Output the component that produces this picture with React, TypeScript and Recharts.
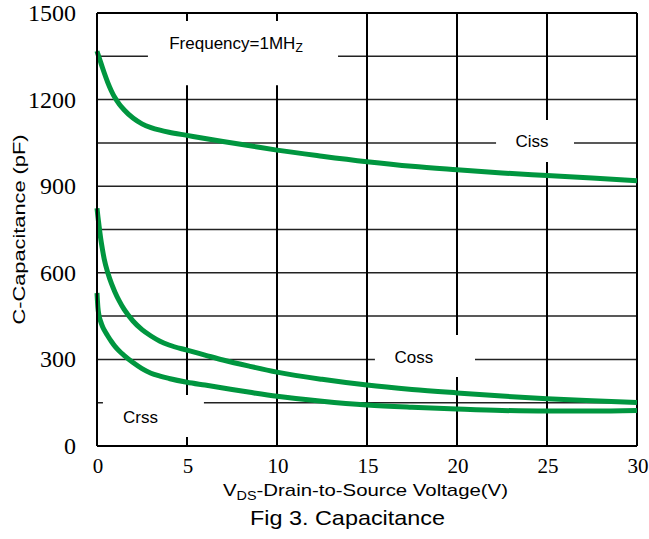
import React from "react";
import {
  LineChart,
  Line,
  XAxis,
  YAxis,
  ReferenceLine,
  ReferenceArea,
} from "recharts";

// pF at each V_DS step
const voltages = [0, 0.05, 0.1, 0.2, 0.3, 0.4, 0.6, 0.8, 1, 1.25, 1.5, 2, 2.5, 3, 3.5, 4, 5, 6, 7, 8.5, 10, 12.5, 15, 17.5, 20, 22.5, 25, 27.5, 30];
const ciss = [1368, 1358, 1349, 1330, 1311, 1293, 1259, 1230, 1206, 1183, 1165, 1136, 1116, 1103, 1094, 1087, 1076, 1065, 1055, 1040, 1025, 1004, 985, 969, 957, 946, 937, 928, 919];
const coss = [824, 795, 770, 721, 682, 648, 600, 563, 533, 501, 474, 433, 403, 381, 363, 350, 332, 315, 298, 276, 256, 231, 211, 196, 184, 173, 164, 157, 151];
const crss = [530, 480, 456, 432, 415, 402, 381, 362, 345, 328, 314, 289, 268, 252, 242, 234, 221, 211, 201, 186, 172, 155, 142, 134, 128, 123, 121, 121, 123];

const xTicks = [0, 5, 10, 15, 20, 25, 30];
const yTicks = [0, 300, 600, 900, 1200, 1500];
const hGrid = [150, 300, 450, 600, 750, 900, 1050, 1200, 1350];
const vGrid = [5, 10, 15, 20, 25];

const data = voltages.map((v, i) => ({ v, ciss: ciss[i], coss: coss[i], crss: crss[i] }));

const SANS = "'Liberation Sans', Arial, sans-serif";
const SERIF = "'Liberation Serif', 'Times New Roman', Times, serif";
const GREEN = "#00963f";

function YTick({ x, y, payload }: any) {
  return (
    <text
      x={x - 21}
      y={y + 8}
      textAnchor="end"
      fontFamily={SERIF}
      style={{ fontFamily: SERIF }}
      fontSize={24}
      fill="#000"
    >
      {payload.value}
    </text>
  );
}

function XTick({ x, y, payload }: any) {
  return (
    <text
      x={x + 1}
      y={y + 27}
      textAnchor="middle"
      fontFamily={SERIF}
      style={{ fontFamily: SERIF }}
      fontSize={21}
      fill="#000"
    >
      {payload.value}
    </text>
  );
}

// text placed inside a white box, nudged from the box centre
function boxLabel(text: string, dx: number, dy: number) {
  return ({ viewBox }: any) => (
    <text
      x={viewBox.x + viewBox.width / 2 + dx}
      y={viewBox.y + viewBox.height / 2 + dy}
      textAnchor="middle"
      fontFamily={SANS}
      fontSize={17}
      fill="#000"
    >
      {text}
    </text>
  );
}

function freqLabel({ viewBox }: any) {
  return (
    <text
      x={viewBox.x + viewBox.width / 2 - 7}
      y={viewBox.y + viewBox.height / 2 - 4}
      textAnchor="middle"
      fontFamily={SANS}
      fontSize={17}
      fill="#000"
    >
      Frequency=1MH
      <tspan fontSize={12} dy={3}>Z</tspan>
    </text>
  );
}

function XTitle({ viewBox }: any) {
  const cx = viewBox.x + viewBox.width / 2;
  return (
    <g>
      <text
        x={cx - 1.5}
        y={viewBox.y + 50}
        textAnchor="middle"
        fontFamily={SANS}
        fontSize={17}
        fill="#000"
        textLength={285}
        lengthAdjust="spacingAndGlyphs"
      >
        V<tspan fontSize={12} dy={4}>DS</tspan>
        <tspan dy={-4}>-Drain-to-Source Voltage(V)</tspan>
      </text>
      <text
        x={cx - 19.5}
        y={viewBox.y + 79}
        textAnchor="middle"
        fontFamily={SANS}
        fontSize={21}
        fill="#000"
        textLength={195}
        lengthAdjust="spacingAndGlyphs"
      >
        Fig 3. Capacitance
      </text>
    </g>
  );
}

function YTitle({ viewBox }: any) {
  const cy = viewBox.y + viewBox.height / 2;
  return (
    <text
      x={25}
      y={cy}
      transform={`rotate(-90, 25, ${cy})`}
      textAnchor="middle"
      fontFamily={SANS}
      fontSize={17}
      fill="#000"
      textLength={190}
      lengthAdjust="spacingAndGlyphs"
    >
      C-Capacitance (pF)
    </text>
  );
}

export default function App() {
  return (
    <div style={{ position: "absolute", left: 0, top: 0, width: 649, height: 539, background: "#fff" }}>
      <LineChart width={649} height={539} data={data} margin={{ top: 13, right: 12, left: 0, bottom: 0 }}>
        <XAxis
          dataKey="v"
          type="number"
          domain={[0, 30]}
          ticks={xTicks}
          height={93}
          tickLine={false}
          tickSize={0}
          tickMargin={0}
          axisLine={{ stroke: "#000", strokeWidth: 2 }}
          tick={<XTick />}
          label={{ content: XTitle }}
        />
        <YAxis
          type="number"
          domain={[0, 1500]}
          ticks={yTicks}
          width={97}
          tickLine={false}
          tickSize={0}
          tickMargin={0}
          axisLine={{ stroke: "#000", strokeWidth: 2 }}
          tick={<YTick />}
          label={{ content: YTitle }}
        />
        {hGrid.map((g) => (
          <ReferenceLine key={`h${g}`} y={g} stroke="#222" strokeWidth={1.5} zIndex={50} />
        ))}
        {vGrid.map((g) => (
          <ReferenceLine key={`v${g}`} x={g} stroke="#000" strokeWidth={2} zIndex={50} />
        ))}
        <ReferenceLine y={1500} stroke="#000" strokeWidth={2} zIndex={50} />
        <ReferenceLine x={30} stroke="#000" strokeWidth={2} zIndex={50} />
        <ReferenceArea x1={2.83} x2={13.39} y1={1250} y2={1472} fill="#fff" fillOpacity={1} stroke="none" zIndex={60} label={freqLabel} />
        <ReferenceArea x1={22.17} x2={26.5} y1={984} y2={1129} fill="#fff" fillOpacity={1} stroke="none" zIndex={60} label={boxLabel("Ciss", -3, 6)} />
        <ReferenceArea x1={15.44} x2={21} y1={239} y2={384.5} fill="#fff" fillOpacity={1} stroke="none" zIndex={60} label={boxLabel("Coss", -11, 7)} />
        <ReferenceArea x1={0.33} x2={5.94} y1={31.2} y2={176.7} fill="#fff" fillOpacity={1} stroke="none" zIndex={60} label={boxLabel("Crss", -13, 7)} />
        <Line type="monotone" dataKey="ciss" stroke={GREEN} strokeWidth={5} dot={false} activeDot={false} isAnimationActive={false} />
        <Line type="monotone" dataKey="coss" stroke={GREEN} strokeWidth={5} dot={false} activeDot={false} isAnimationActive={false} />
        <Line type="monotone" dataKey="crss" stroke={GREEN} strokeWidth={5} dot={false} activeDot={false} isAnimationActive={false} />
      </LineChart>
    </div>
  );
}
